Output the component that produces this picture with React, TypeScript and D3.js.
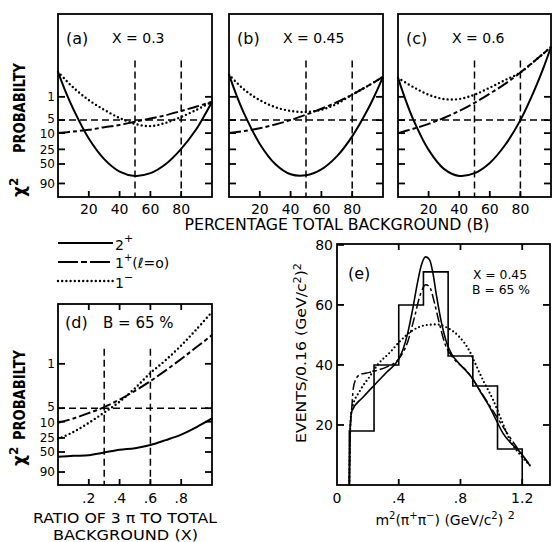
import React from "react";
import * as d3 from "d3";

// ---------------- data ----------------
// Panels (a)-(c): chi-square value vs percentage total background B
const bSolid = [0, 5, 10, 20, 30, 40, 50, 60, 70, 80, 90, 95, 100];
const bOther = [0, 10, 20, 30, 40, 50, 60, 70, 80, 90, 100];

const aSolid = [23.1, 19.4, 16.2, 10.8, 7.0, 4.7, 3.9, 4.4, 6.1, 8.9, 12.6, 15.0, 17.6];
const aDash = [11.8, 12.1, 12.4, 12.9, 13.3, 13.9, 14.5, 15.1, 15.9, 16.7, 17.6];
const aDot = [23.1, 20.2, 17.9, 16.1, 14.6, 13.5, 13.1, 13.7, 14.8, 16.1, 17.6];

const bPanelSolid = [22.6, 18.7, 15.3, 9.8, 6.1, 4.2, 4.0, 5.1, 7.5, 11.2, 16.1, 19.0, 22.2];
const bPanelDash = [11.8, 12.2, 12.7, 13.4, 14.2, 15.2, 16.3, 17.5, 18.9, 20.5, 22.2];
const bPanelDot = [22.6, 19.8, 17.9, 16.6, 15.9, 15.7, 16.1, 17.2, 18.9, 20.5, 22.2];

const cSolid = [22.0, 17.9, 14.3, 8.7, 5.2, 3.9, 4.4, 6.3, 9.6, 14.2, 20.3, 23.8, 27.7];
const cDash = [11.8, 12.6, 13.5, 14.6, 15.9, 17.4, 19.1, 20.9, 23.0, 25.3, 27.7];
const cDot = [22.0, 20.3, 18.9, 18.1, 18.1, 18.9, 20.2, 21.6, 23.0, 25.3, 27.7];

// Panel (d): chi-square vs ratio X
const xRatio = [0, 0.1, 0.2, 0.3, 0.4, 0.5, 0.6, 0.7, 0.8, 0.9, 1.0];
const dSolid = [5.2, 5.4, 5.5, 6.0, 6.5, 6.8, 7.4, 8.3, 9.3, 10.7, 12.3];
const dDash = [11.5, 12.3, 13.3, 14.4, 15.8, 17.4, 19.2, 21.2, 23.3, 25.5, 27.7];
const dDot = [8.5, 9.8, 11.5, 13.4, 15.4, 17.9, 20.7, 23.1, 25.8, 28.8, 32.0];

// probability axis
const probLabels = ["1", "5", "10", "25", "50", "90"];
const probChi2ABC = [18.5, 14.2, 11.8, 8.8, 6.1, 2.5];
const probChi2D = [22.4, 14.2, 11.7, 8.7, 6.1, 2.4];
const fivePctChi2 = 14.2;
const refTopChi2 = 25.2;
const refB = [50, 80];
const refX = [0.3, 0.6];
const bTicks = [20, 40, 60, 80];
const xTicksD = [0.2, 0.4, 0.6, 0.8];
const xTickLabelsD = [".2", ".4", ".6", ".8"];

// Panel (e): histogram and fits
const histEdges = [0.08, 0.24, 0.4, 0.56, 0.72, 0.88, 1.04, 1.2];
const histCounts = [18, 40, 60, 71, 43, 33, 12];
const eTicksX = [0, 0.4, 0.8, 1.2];
const eTickLabelsX = ["0", ".4", ".8", "1.2"];
const eTicksY = [20, 40, 60, 80];

const eSolidM = [0.08, 0.085, 0.095, 0.17, 0.246, 0.32, 0.4, 0.43, 0.46, 0.49, 0.52, 0.545, 0.575, 0.6, 0.62, 0.645, 0.675, 0.71, 0.742, 0.8, 0.872, 0.93, 0.99, 1.077, 1.195, 1.24];
const eSolidN = [0, 18, 24.5, 29.3, 33.5, 37.5, 42, 45.5, 51, 58.5, 67, 73, 76, 75, 71, 63, 54.5, 47.5, 43.7, 40, 35.9, 31, 25.9, 17.1, 10.4, 7.3];
const eDashM = [0.08, 0.085, 0.095, 0.105, 0.12, 0.15, 0.19, 0.246, 0.32, 0.4, 0.46, 0.5, 0.54, 0.575, 0.6, 0.63, 0.66, 0.7, 0.75, 0.84, 0.97, 1.12, 1.25];
const eDashN = [0, 18, 25, 32, 35, 36.8, 37.3, 38, 39.3, 42, 48, 55.5, 63.5, 66.7, 66, 61, 54.5, 47, 42.5, 38, 28, 15.9, 6.5];
const eDotM = [0.08, 0.085, 0.095, 0.15, 0.21, 0.27, 0.34, 0.41, 0.49, 0.58, 0.645, 0.71, 0.79, 0.86, 0.9, 0.95, 1.01, 1.07, 1.12, 1.2, 1.25];
const eDotN = [0, 18, 25, 31.5, 36, 40.5, 44, 48, 51.5, 53.3, 53.5, 52.5, 49.5, 44.5, 40, 34.5, 28.5, 21, 15, 9.3, 6.5];

// ---------------- styling ----------------
const FONT = "'DejaVu Sans', sans-serif";
const DASH_1P = "12 3 4 3";
const DASH_REF = "7 4";

type Style = { dash?: string; width: number; cap?: string };
const S_SOLID: Style = { width: 2 };
const S_DASH: Style = { dash: DASH_1P, width: 2 };
const S_DOT: Style = { dash: "0 4.2", width: 2.4, cap: "round" };

function Frame({ x0, x1, y0, y1, left = [], right = [], bottom = [], top = [], tl = 7 }: any) {
  return (
    <g stroke="#000" strokeWidth={1.8} fill="none">
      <rect x={x0} y={y0} width={x1 - x0} height={y1 - y0} />
      {left.map((y: number, i: number) => <line key={"l" + i} x1={x0} x2={x0 + tl} y1={y} y2={y} />)}
      {right.map((y: number, i: number) => <line key={"r" + i} x1={x1} x2={x1 - tl} y1={y} y2={y} />)}
      {bottom.map((x: number, i: number) => <line key={"b" + i} x1={x} x2={x} y1={y1} y2={y1 - 6} />)}
      {top.map((x: number, i: number) => <line key={"t" + i} x1={x} x2={x} y1={y0} y2={y0 + 6} />)}
    </g>
  );
}

function Curve({ xs, ys, sx, sy, st, curve }: any) {
  const pts = xs.map((x: number, i: number) => [x, ys[i]] as [number, number]);
  const gen = d3.line<[number, number]>().x(d => sx(d[0])).y(d => sy(d[1])).curve(curve || d3.curveCatmullRom.alpha(0.5));
  return <path d={gen(pts) || ""} fill="none" stroke="#000" strokeWidth={st.width} strokeDasharray={st.dash} strokeLinecap={st.cap || "butt"} />;
}

function YLabelChi({ x, yBottom, yProbEnd }: { x: number; yBottom: number; yProbEnd: number }) {
  return (
    <g fontFamily={FONT} fill="#000">
      <text transform={`translate(${x},${yBottom}) rotate(-90)`} fontSize={17} fontWeight="bold">
        χ<tspan dy={-7} fontSize={12}>2</tspan>
      </text>
      <text transform={`translate(${x},${yProbEnd}) rotate(-90)`} fontSize={15} textLength={90} lengthAdjust="spacingAndGlyphs" fontWeight="bold">
        PROBABILTY
      </text>
    </g>
  );
}

function ProbTickLabels({ x, ys }: { x: number; ys: number[] }) {
  // tightly packed labels ("5" and "10") are spread by a pixel each so they do not touch
  const nudge = (i: number) => (i === 1 ? -1 : i === 2 ? 1 : 0);
  return (
    <>
      {probLabels.map((l, i) => (
        <text key={l} x={x} y={ys[i] + 4.3 + nudge(i)} fontSize={12} textAnchor="end">{l}</text>
      ))}
    </>
  );
}

function ProbPanel({ x0, x1, y0, y1, solid, dash, dot, tag, xText, showY }: any) {
  const sx = d3.scaleLinear().domain([0, 100]).range([x0, x1]);
  const sy = d3.scaleLinear().domain([0, 33.8]).range([y1, y0]);
  const tickYs = probChi2ABC.map(v => sy(v));
  return (
    <g>
      <Frame x0={x0} x1={x1} y0={y0} y1={y1} left={tickYs} right={tickYs} bottom={bTicks.map(b => sx(b))} />
      <line x1={x0} x2={x1} y1={sy(fivePctChi2)} y2={sy(fivePctChi2)} stroke="#000" strokeWidth={1.5} strokeDasharray={DASH_REF} />
      {refB.map(b => (
        <line key={b} x1={sx(b)} x2={sx(b)} y1={sy(refTopChi2)} y2={y1} stroke="#000" strokeWidth={1.5} strokeDasharray={DASH_REF} />
      ))}
      <Curve xs={bOther} ys={dot} sx={sx} sy={sy} st={S_DOT} />
      <Curve xs={bOther} ys={dash} sx={sx} sy={sy} st={S_DASH} />
      <Curve xs={bSolid} ys={solid} sx={sx} sy={sy} st={S_SOLID} />
      <g fontFamily={FONT} fill="#000">
        <text x={x0 + 8} y={y0 + 30} fontSize={16}>{tag}</text>
        <text x={x0 + 54} y={y0 + 29} fontSize={14}>{xText}</text>
        {bTicks.map(b => (
          <text key={b} x={sx(b)} y={y1 + 17} fontSize={14} textAnchor="middle">{b}</text>
        ))}
        {showY && <ProbTickLabels x={x0 - 3} ys={tickYs} />}
      </g>
    </g>
  );
}

function PanelD() {
  const x0 = 58, x1 = 212, y0 = 304, y1 = 485;
  const sx = d3.scaleLinear().domain([0, 1]).range([x0, x1]);
  const sy = d3.scaleLinear().domain([0, 33.46]).range([y1, y0]);
  const tickYs = probChi2D.map(v => sy(v));
  return (
    <g>
      <Frame x0={x0} x1={x1} y0={y0} y1={y1} left={tickYs} right={tickYs} bottom={xTicksD.map(v => sx(v))} top={xTicksD.map(v => sx(v))} />
      <line x1={x0} x2={x1} y1={sy(fivePctChi2)} y2={sy(fivePctChi2)} stroke="#000" strokeWidth={1.5} strokeDasharray={DASH_REF} />
      {refX.map(v => (
        <line key={v} x1={sx(v)} x2={sx(v)} y1={sy(refTopChi2)} y2={y1} stroke="#000" strokeWidth={1.5} strokeDasharray={DASH_REF} />
      ))}
      <Curve xs={xRatio} ys={dDot} sx={sx} sy={sy} st={S_DOT} />
      <Curve xs={xRatio} ys={dDash} sx={sx} sy={sy} st={S_DASH} />
      <Curve xs={xRatio} ys={dSolid} sx={sx} sy={sy} st={S_SOLID} />
      <g fontFamily={FONT} fill="#000">
        <text x={x0 + 7} y={y0 + 24} fontSize={16}>(d)</text>
        <text x={x0 + 45} y={y0 + 24} fontSize={15}>B = 65 %</text>
        {xTicksD.map((v, i) => (
          <text key={v} x={sx(v)} y={503} fontSize={14} textAnchor="middle">{xTickLabelsD[i]}</text>
        ))}
        <ProbTickLabels x={x0 - 3} ys={tickYs} />
        <text x={125} y={523} fontSize={14} textAnchor="middle" textLength={184} lengthAdjust="spacingAndGlyphs">RATIO OF 3 π TO TOTAL</text>
        <text x={125.5} y={540} fontSize={14} textAnchor="middle" textLength={145} lengthAdjust="spacingAndGlyphs">BACKGROUND (X)</text>
      </g>
      <YLabelChi x={25} yBottom={466} yProbEnd={440} />
    </g>
  );
}

function PanelE() {
  const x0 = 337, x1 = 550, y0 = 244, y1 = 485;
  const sx = d3.scaleLinear().domain([0, 1.38]).range([x0, x1]);
  const sy = d3.scaleLinear().domain([0, 80.3]).range([y1, y0]);
  const histPts: [number, number][] = [[histEdges[0], 0]];
  histCounts.forEach((c, i) => {
    histPts.push([histEdges[i], c]);
    histPts.push([histEdges[i + 1], c]);
  });
  histPts.push([histEdges[histEdges.length - 1], 0]);
  const histPath = d3.line<[number, number]>().x(d => sx(d[0])).y(d => sy(d[1]))(histPts) || "";
  const mono = d3.curveMonotoneX;
  return (
    <g>
      <Frame x0={x0} x1={x1} y0={y0} y1={y1}
        left={eTicksY.map(v => sy(v))} right={eTicksY.slice(0, 3).map(v => sy(v))}
        bottom={eTicksX.slice(1).map(v => sx(v))} top={eTicksX.slice(1).map(v => sx(v))} />
      <path d={histPath} fill="none" stroke="#000" strokeWidth={1.6} />
      <Curve xs={eDotM} ys={eDotN} sx={sx} sy={sy} st={{ dash: "0 4", width: 2.2, cap: "round" }} curve={mono} />
      <Curve xs={eDashM} ys={eDashN} sx={sx} sy={sy} st={{ dash: "10 3 3 3", width: 1.5 }} curve={mono} />
      <Curve xs={eSolidM} ys={eSolidN} sx={sx} sy={sy} st={{ width: 1.6 }} curve={mono} />
      <g fontFamily={FONT} fill="#000">
        <text x={348} y={279} fontSize={16}>(e)</text>
        <text x={473} y={279} fontSize={12} textLength={54} lengthAdjust="spacingAndGlyphs">X = 0.45</text>
        <text x={472} y={294} fontSize={12} textLength={58} lengthAdjust="spacingAndGlyphs">B = 65 %</text>
        {eTicksX.map((v, i) => (
          <text key={v} x={sx(v)} y={503} fontSize={14} textAnchor="middle">{eTickLabelsX[i]}</text>
        ))}
        {eTicksY.map(v => (
          <text key={v} x={333} y={sy(v) + 5} fontSize={14} textAnchor="end">{v}</text>
        ))}
        <text x={445} y={525} fontSize={14} textAnchor="middle">
          m<tspan dy={-6} fontSize={10}>2</tspan><tspan dy={6}>(π</tspan><tspan dy={-6} fontSize={10}>+</tspan><tspan dy={6}>π</tspan><tspan dy={-6} fontSize={10}>−</tspan><tspan dy={6}>) (GeV/c</tspan><tspan dy={-6} fontSize={10}>2</tspan><tspan dy={6}>) </tspan><tspan dy={-6} fontSize={11}>2</tspan>
        </text>
        <text transform="translate(306,353) rotate(-90)" fontSize={14} textAnchor="middle" textLength={180} lengthAdjust="spacingAndGlyphs">
          EVENTS/0.16 (GeV/c<tspan dy={-5} fontSize={10}>2</tspan><tspan dy={5}>)</tspan><tspan dy={-5} fontSize={10}>2</tspan>
        </text>
      </g>
    </g>
  );
}

function Legend() {
  const lx0 = 58, lx1 = 113;
  const rows = [
    { y: 243, st: S_SOLID },
    { y: 262, st: { dash: "20 3 6 3", width: 2 } },
    { y: 281, st: S_DOT },
  ];
  return (
    <g>
      {rows.map((r, i) => (
        <line key={i} x1={lx0} x2={lx1} y1={r.y} y2={r.y} stroke="#000" strokeWidth={r.st.width} strokeDasharray={r.st.dash} strokeLinecap={r.st.cap || "butt"} />
      ))}
      <g fontFamily={FONT} fill="#000" fontSize={14}>
        <text x={115} y={250}>2<tspan dy={-8} fontSize={11}>+</tspan></text>
        <text x={115} y={268}>1<tspan dy={-7} fontSize={10}>+</tspan><tspan dy={7}>(ℓ=o)</tspan></text>
        <text x={115} y={288}>1<tspan dy={-7} fontSize={11}>−</tspan></text>
      </g>
    </g>
  );
}

export default function App() {
  return (
    <svg width={552} height={542} viewBox="0 0 552 542" style={{ position: "absolute", left: 0, top: 0, background: "#fff" }}>
      <rect x={0} y={0} width={552} height={542} fill="#fff" />
      <ProbPanel x0={58} x1={212} y0={14} y1={197} solid={aSolid} dash={aDash} dot={aDot} tag="(a)" xText="X = 0.3" showY />
      <ProbPanel x0={229} x1={383} y0={14} y1={197} solid={bPanelSolid} dash={bPanelDash} dot={bPanelDot} tag="(b)" xText="X = 0.45" />
      <ProbPanel x0={398} x1={551} y0={14} y1={197} solid={cSolid} dash={cDash} dot={cDot} tag="(c)" xText="X = 0.6" />
      <YLabelChi x={25} yBottom={197} yProbEnd={153} />
      <text x={337} y={230} fontFamily={FONT} fontSize={15} textAnchor="middle" textLength={305} lengthAdjust="spacingAndGlyphs">PERCENTAGE  TOTAL  BACKGROUND  (B)</text>
      <Legend />
      <PanelD />
      <PanelE />
    </svg>
  );
}
